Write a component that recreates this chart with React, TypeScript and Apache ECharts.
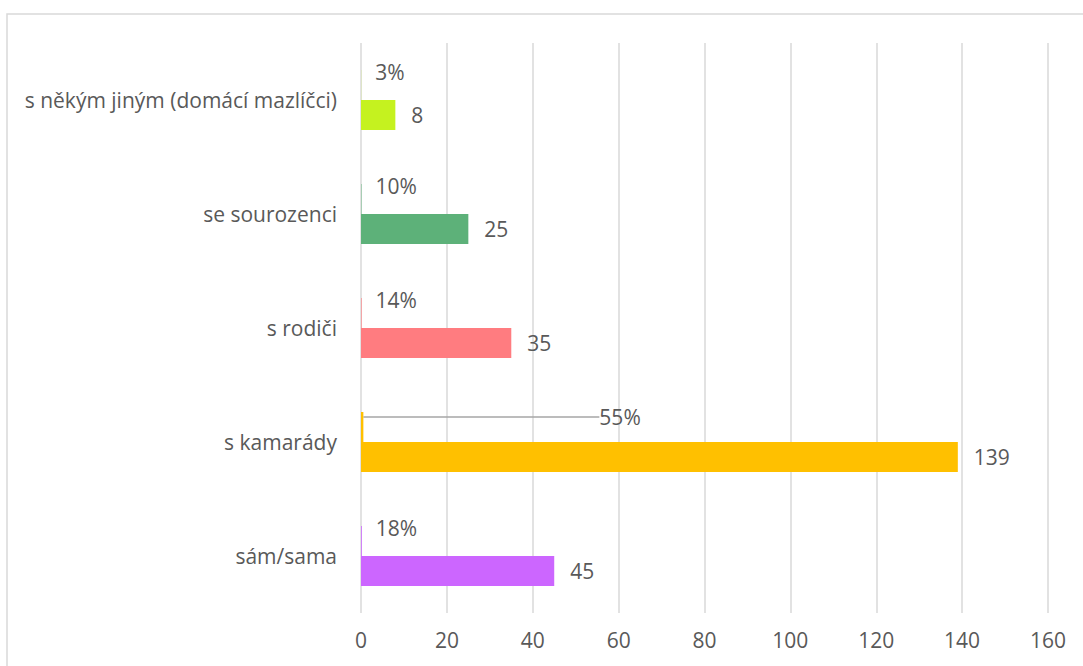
import React, { useEffect, useRef } from "react";
import * as echarts from "echarts";

const categories = [
  "sám/sama",
  "s kamarády",
  "s rodiči",
  "se sourozenci",
  "s někým jiným (domácí mazlíčci)",
];
const counts = [45, 139, 35, 25, 8];
const percents = [18, 55, 14, 10, 3];
const colors = ["#cc66ff", "#ffc000", "#ff7c80", "#5db179", "#c5f21f"];
const xTicks = [0, 20, 40, 60, 80, 100, 120, 140, 160];

const FONT = "'Open Sans', sans-serif";
const TXT = "#595959";
const FS = 21;

export default function App() {
  const ref = useRef<HTMLDivElement>(null);
  useEffect(() => {
    if (!ref.current) return;
    const chart = echarts.init(ref.current, undefined, { renderer: "svg" });
    chart.setOption({
      animation: false,
      textStyle: { fontFamily: FONT },
      graphic: [
        {
          type: "rect",
          shape: { x: 7, y: 14, width: 1110, height: 700 },
          style: { fill: "none", stroke: "#d9d9d9", lineWidth: 1.5 },
          silent: true,
        },
      ],
      grid: { left: 361, right: 35, top: 43, bottom: 53, containLabel: false },
      xAxis: {
        type: "value",
        min: xTicks[0],
        max: xTicks[xTicks.length - 1],
        interval: 20,
        axisLine: { show: false },
        axisTick: { show: false },
        axisLabel: {
          color: TXT,
          fontSize: FS,
          fontFamily: FONT,
          margin: 16,
        },
        splitLine: { show: true, lineStyle: { color: "#d9d9d9", width: 1.5 } },
      },
      yAxis: {
        type: "category",
        data: categories,
        axisLine: { show: false },
        axisTick: { show: false },
        axisLabel: {
          color: TXT,
          fontSize: FS,
          fontFamily: FONT,
          margin: 24,
        },
      },
      series: [
        {
          type: "bar",
          name: "podíl",
          data: percents.map((v, i) => ({
            value: v / 100,
            itemStyle: { color: colors[i] },
            ...(i === 1
              ? {
                  labelLine: { show: true, lineStyle: { color: "#a6a6a6", width: 1.5 } },
                }
              : {}),
          })),
          barWidth: 30,
          barGap: "0%",
          label: {
            show: true,
            position: "right",
            distance: 14,
            color: TXT,
            fontSize: FS,
            fontFamily: FONT,
            formatter: (p: any) => Math.round(p.value * 100) + "%",
          },
          labelLine: { show: false },
          labelLayout: (p: any) =>
            p.dataIndex === 1 ? { dx: 222, dy: -10 } : { dy: -13 },
        },
        {
          type: "bar",
          name: "počet",
          data: counts.map((v, i) => ({ value: v, itemStyle: { color: colors[i] } })),
          barWidth: 30,
          barGap: "0%",
          label: {
            show: true,
            position: "right",
            distance: 16,
            color: TXT,
            fontSize: FS,
            fontFamily: FONT,
          },
        },
      ],
    });
    return () => chart.dispose();
  }, []);
  return (
    <div
      ref={ref}
      style={{ position: "absolute", left: 0, top: 0, width: 1083, height: 666 }}
    />
  );
}
